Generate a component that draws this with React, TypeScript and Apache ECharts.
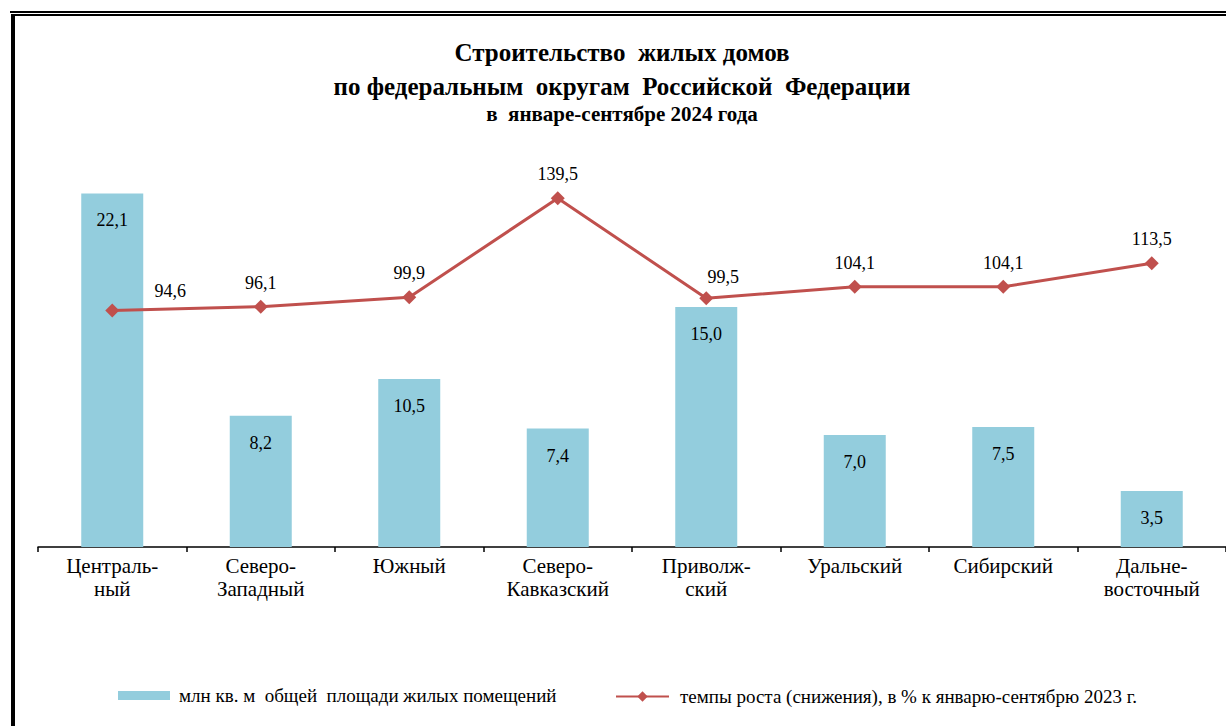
import React, { useEffect, useRef } from "react";
import * as echarts from "echarts";

const categories = [
  "Централь-\nный",
  "Северо-\nЗападный",
  "Южный",
  "Северо-\nКавказский",
  "Приволж-\nский",
  "Уральский",
  "Сибирский",
  "Дальне-\nвосточный",
];
const areaValues = [22.1, 8.2, 10.5, 7.4, 15.0, 7.0, 7.5, 3.5];
const growthValues = [94.6, 96.1, 99.9, 139.5, 99.5, 104.1, 104.1, 113.5];
const areaName = "млн кв. м  общей  площади жилых помещений";
const growthName = "темпы роста (снижения), в % к январю-сентябрю 2023 г.";
const titleLines = [
  "Строительство  жилых домов",
  "по федеральным  округам  Российской  Федерации",
  "в  январе-сентябре 2024 года",
];

const FONT = "Liberation Serif";
const fmt = (v: number) => v.toFixed(1).replace(".", ",");

export default function App() {
  const ref = useRef<HTMLDivElement>(null);
  useEffect(() => {
    if (!ref.current) return;
    const chart = echarts.init(ref.current, undefined, { renderer: "svg" });
    const lineOffsets: Record<number, number[]> = { 0: [58, 4], 4: [17, 3] };
    chart.setOption({
      animation: false,
      backgroundColor: "#ffffff",
      textStyle: { fontFamily: FONT },
      graphic: [
        { type: "rect", shape: { x: 10, y: 11, width: 1216, height: 2 }, style: { fill: "#000" } },
        { type: "rect", shape: { x: 11, y: 14, width: 1215, height: 2 }, style: { fill: "#000" } },
        { type: "rect", shape: { x: 11, y: 14, width: 4, height: 712 }, style: { fill: "#000" } },
        {
          type: "text", x: 622, y: 52,
          style: { text: titleLines[0], fontFamily: FONT, fontWeight: "bold", fontSize: 25, fill: "#000", align: "center", verticalAlign: "middle" },
        },
        {
          type: "text", x: 622, y: 86,
          style: { text: titleLines[1], fontFamily: FONT, fontWeight: "bold", fontSize: 25, fill: "#000", align: "center", verticalAlign: "middle" },
        },
        {
          type: "text", x: 622, y: 114,
          style: { text: titleLines[2], fontFamily: FONT, fontWeight: "bold", fontSize: 21, fill: "#000", align: "center", verticalAlign: "middle" },
        },
      ],
      legend: [
        {
          data: [areaName],
          left: 118, top: 686, padding: 0,
          itemWidth: 52, itemHeight: 9,
          icon: "rect",
          textStyle: { fontFamily: FONT, fontSize: 19, color: "#000", padding: [0, 0, 0, 4] },
        },
        {
          data: [growthName],
          left: 615, top: 687, padding: 0,
          itemWidth: 53, itemHeight: 13,
          textStyle: { fontFamily: FONT, fontSize: 19, color: "#000", padding: [0, 0, 0, 6] },
        },
      ],
      grid: { left: 38, right: -4, top: 147, height: 400, containLabel: false },
      xAxis: {
        type: "category",
        data: categories,
        axisLine: { lineStyle: { color: "#000", width: 1.5 } },
        axisTick: { show: true, length: 5, lineStyle: { color: "#000", width: 1.5 } },
        axisLabel: { fontFamily: FONT, fontSize: 21, color: "#000", lineHeight: 23, margin: 7, interval: 0 },
      },
      yAxis: [
        { type: "value", min: 0, max: 25, show: false, splitLine: { show: false } },
        { type: "value", min: 0, max: 160, show: false, splitLine: { show: false } },
      ],
      series: [
        {
          name: areaName,
          type: "bar",
          yAxisIndex: 0,
          barWidth: 62,
          data: areaValues,
          itemStyle: { color: "#93cddd" },
          label: {
            show: true,
            position: "insideTop",
            distance: 18,
            fontFamily: FONT,
            fontSize: 18,
            color: "#000",
            formatter: (p: any) => fmt(p.value),
          },
        },
        {
          name: growthName,
          type: "line",
          yAxisIndex: 1,
          data: growthValues.map((v, i) => ({
            value: v,
            label: lineOffsets[i] ? { offset: lineOffsets[i] } : undefined,
          })),
          symbol: "diamond",
          symbolSize: [14, 14],
          lineStyle: { color: "#c0504d", width: 3 },
          itemStyle: { color: "#c0504d" },
          label: {
            show: true,
            position: "top",
            distance: 8,
            fontFamily: FONT,
            fontSize: 18,
            color: "#000",
            formatter: (p: any) => fmt(p.value),
          },
        },
      ],
    });
    return () => chart.dispose();
  }, []);
  return (
    <div
      ref={ref}
      style={{ position: "absolute", left: 0, top: 0, width: 1226, height: 726, overflow: "hidden" }}
    />
  );
}
